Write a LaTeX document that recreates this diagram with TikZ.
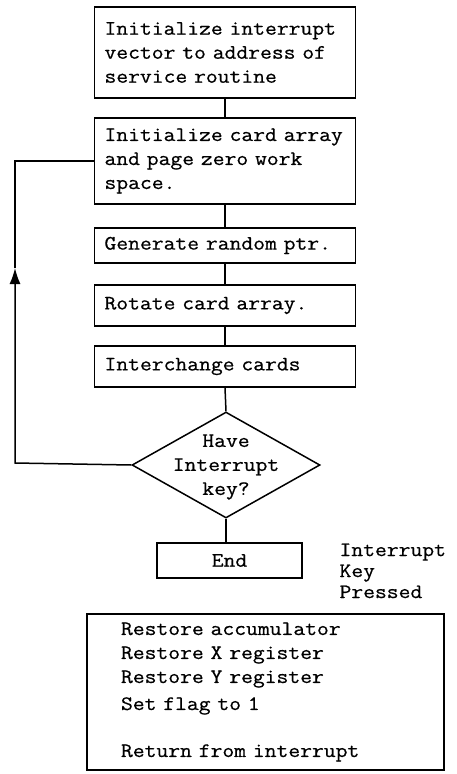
\documentclass[tikz,border=0pt]{standalone}
\usepackage{fontspec}
\setmonofont[FakeStretch=1.12,FakeBold=0.6]{Latin Modern Mono}
\usetikzlibrary{shapes.geometric,arrows.meta}
\begin{document}
\begin{tikzpicture}[x=1pt,y=-1pt,
  txt/.style={font=\ttfamily\fontsize{20.5}{24}\selectfont},
  box/.style={txt, draw, line width=1.5pt, inner xsep=10pt, inner ysep=0pt, align=left},
  conn/.style={line width=1.5pt},
  dec/.style={draw, diamond, line width=1.5pt, inner sep=0pt, minimum width=188pt, minimum height=106pt}]
\useasboundingbox (0,0) rectangle (456,774);
\node[box, text width=241pt, minimum height=91pt] (b1) at (225,52.5)
  {Initialize interrupt\\vector to address of\\service routine};
\node[box, text width=241pt, minimum height=86pt] (b2) at (225,161)
  {Initialize card array\\and page zero work\\space.};
\node[box, text width=241pt, minimum height=35pt] (b3) at (225,245.5)
  {Generate random ptr.};
\node[box, text width=241pt, minimum height=41pt] (b4) at (225,305.5)
  {Rotate card array.};
\node[box, text width=241pt, minimum height=41pt] (b5) at (225,366.5)
  {Interchange cards};
\node[dec] (d) at (226,465) {};
\node[txt, align=center] (dt) at (226,467) {Have\\Interrupt\\key?};
\node[box, minimum width=145pt, minimum height=35pt, inner xsep=0pt, align=center] (e) at (229.5,560.5) {End};
\node[txt, align=left, anchor=north west, font=\ttfamily\fontsize{20.5}{21}\selectfont] (ik) at (336,540)
  {Interrupt\\Key\\Pressed};
\node[box, text width=289pt, inner xsep=34pt, minimum height=156pt] (r) at (265.5,692)
  {Restore accumulator\\Restore X register\\Restore Y register\\[3pt]Set flag to 1\\[23pt]Return from interrupt};
\draw[conn] (b1) -- (b2);
\draw[conn] (b2) -- (b3);
\draw[conn] (b3) -- (b4);
\draw[conn] (b4) -- (b5);
\draw[conn] (b5.south) -- (d.north);
\draw[conn] (d.south) -- (d.south |- e.north);
\coordinate (lp) at (15,463);
\coordinate (la) at (15,268);
\draw[conn, -{Latex[length=16pt,width=11pt]}] (d.west) -- (lp) -- (la);
\draw[conn] (la) -- (la |- b2.west) -- (b2.west);
\end{tikzpicture}
\end{document}
